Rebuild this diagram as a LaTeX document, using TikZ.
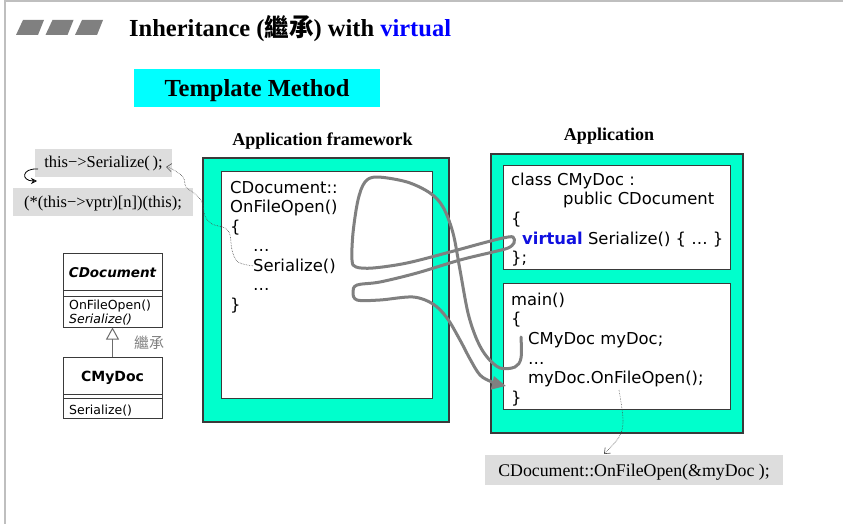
\documentclass[tikz,border=0pt]{standalone}
\usepackage{fontspec}
\setmainfont{Liberation Serif}
\setsansfont{DejaVu Sans}
\newfontfamily\cjk{Noto Sans CJK TC}
\usetikzlibrary{arrows.meta}
\definecolor{frameteal}{HTML}{00FFCC}
\definecolor{titlecyan}{HTML}{00FFFF}
\definecolor{callgray}{HTML}{DDDDDD}
\definecolor{edgegray}{HTML}{3A3A3A}
\definecolor{flowgray}{HTML}{808080}
\definecolor{vblue}{HTML}{1010E0}
\newdimen\pxsize
\setlength{\pxsize}{1pt}
\newcommand{\codefont}{\sffamily\fontsize{16.4}{18}\selectfont}
\newcommand{\umlfont}{\sffamily\fontsize{12.5}{14}\selectfont}
\newcommand{\callfont}{\fontsize{16.5}{18}\selectfont}

\begin{document}
\begin{tikzpicture}[x=\pxsize,y=-\pxsize,
  code/.style={anchor=base west,inner sep=0pt,font=\codefont},
  umltext/.style={anchor=base west,inner sep=0pt,font=\umlfont},
  callbox/.style={fill=callgray,inner sep=0pt,font=\callfont},
  outerbox/.style={draw=edgegray,line width=1.3pt,fill=frameteal},
  innerbox/.style={draw=edgegray,line width=1pt,fill=white},
  classbox/.style={draw=edgegray,line width=1pt,fill=white,inner sep=0pt,minimum width=99pt},
  dotlink/.style={densely dotted,line width=0.6pt,draw=black!70,-{Straight Barb[length=5pt,width=8pt]}},
  flow/.style={line width=3pt,draw=flowgray,line cap=round,line join=round,-{Triangle[length=14pt,width=13pt]}}]
\useasboundingbox (0,0) rectangle (843,524);
\fill[white] (0,0) rectangle (843,524);
\draw[gray!50,line width=2pt] (5,524) -- (5,1) -- (843,1);

% title bar
\foreach \bx in {16,45.5,75}{
  \fill[gray] (\bx,35) -- ++(22,0) -- ++(6,-15) -- ++(-21,0) -- cycle;
}
\node[anchor=base west,inner sep=0pt,font=\bfseries\fontsize{24.5}{27}\selectfont] (title) at (129,37)
  {Inheritance ({\cjk 繼承}) with {\color{blue}virtual}};
\node[fill=titlecyan,minimum width=246pt,minimum height=38pt,text height=18pt,text depth=0pt,inner sep=0pt,
  font=\bfseries\fontsize{24.5}{26}\selectfont] (tmpl) at (257,88) {Template Method};

% headings
\node[anchor=base,inner sep=0pt,font=\bfseries\fontsize{18}{20}\selectfont] (fwhead) at (322.5,146) {Application framework};
\node[anchor=base,inner sep=0pt,font=\bfseries\fontsize{18}{20}\selectfont] (apphead) at (609,140) {Application};

% framework
\draw[outerbox] (203,158) rectangle (449,422);
\draw[innerbox] (221,171) rectangle (432,398);
\foreach \ln/\lx/\tx in {0/230/{CDocument::},1/230/{OnFileOpen()},2/230/{\{},3/253/{\ldots},
  4/253/{Serialize()},5/253/{\ldots},6/230/{\}}}{
  \node[code] (fw\ln) at (\lx,{193+19.5*\ln}) {\tx};
}

% application
\draw[outerbox] (491,154) rectangle (743,433);
\draw[innerbox] (503,165) rectangle (730,269);
\draw[innerbox] (503,283) rectangle (730,409);
\foreach \ln/\lx/\tx in {0/511/{class CMyDoc :},1/563/{public CDocument},2/511/{\{},
  3/522/{{\bfseries\color{vblue}virtual} Serialize() \{ \ldots\ \}},4/511/{\};}}{
  \node[code] (cls\ln) at (\lx,{185+19.7*\ln}) {\tx};
}
\foreach \ln/\lx/\tx in {0/511/{main()},1/511/{\{},2/528/{CMyDoc myDoc;},3/528/{\ldots},
  4/528/{myDoc.OnFileOpen();},5/511/{\}}}{
  \node[code] (mn\ln) at (\lx,{305+19.7*\ln}) {\tx};
}

% calls
\node[callbox,minimum width=137pt,minimum height=28pt,text height=12pt,text depth=3pt] (thisser) at (103.5,163)
  {this−>Serialize(\,);};
\node[callbox,minimum width=180pt,minimum height=28pt,text height=12.5pt,text depth=2.5pt] (vptr) at (103,202)
  {(*(this−>vptr)[n])(this);};
\node[callbox,minimum width=298pt,minimum height=30pt,text height=13pt,text depth=1pt,font=\fontsize{17.8}{20}\selectfont]
  (docopen) at (634,470) {CDocument::OnFileOpen(\&myDoc );};
\draw[line width=0.8pt,-{Stealth[open,length=6pt,width=6pt]}] (38,169) .. controls (21,168) and (21,181) .. (37,181);

\coordinate (sertip) at (166,167);
\coordinate (opentip) at (604,454);
\draw[dotlink] plot[smooth,tension=0.6] coordinates {(fw4.west) (238,262) (232,250) (230,235) (225,228)
  (212,224) (205,216) (202,202) (194,193) (186,187) (183,177) (172,169) (sertip)};
\draw[dotlink] plot[smooth,tension=0.6] coordinates {(619,390) (623,420) (619,437) (opentip)};

% uml
\node[classbox,minimum height=74pt] (cdoc) at (112.5,290) {};
\draw[edgegray,line width=1pt] (63,290) -- (162,290) (63,296) -- (162,296);
\node[anchor=base,inner sep=0pt,font=\sffamily\bfseries\itshape\fontsize{13.5}{15}\selectfont] (cdocname) at (112.5,277) {CDocument};
\node[umltext] (cdocm1) at (69,309) {OnFileOpen()};
\node[umltext,font=\umlfont\itshape] (cdocm2) at (69,323) {Serialize()};
\node[classbox,minimum height=61pt] (mydoc) at (112.5,387.5) {};
\draw[edgegray,line width=1pt] (63,394) -- (162,394) (63,398) -- (162,398);
\node[anchor=base,inner sep=0pt,font=\sffamily\bfseries\fontsize{14}{15}\selectfont] (mydocname) at (112.5,381) {CMyDoc};
\node[umltext] (mydocm1) at (69,414.5) {Serialize()};
\draw[gray!85!black,line width=1.8pt,-{Triangle[open,length=12pt,width=13pt,line width=1pt]}] (mydoc.north) -- (cdoc.south);
\node[text=gray,inner sep=0pt,font=\cjk\fontsize{15}{16}\selectfont] (inh) at (149,343) {繼承};

% flow
\coordinate (flowstart) at (521,337);
\coordinate (flowend) at (506,386);
\draw[flow] plot[smooth,tension=0.55] coordinates {(flowstart) (521,358) (515,367) (500,368) (487,357) (477,340)
  (468,313) (460,270) (453,233) (443,207) (430,193) (407,182) (377,177) (365,182) (358,200) (353,233) (352,260)
  (356,267) (373,268) (407,263) (450,252) (483,243) (503,238) (513,237) (514,243) (508,248) (493,252) (460,260)
  (417,273) (380,282) (357,285) (353,292) (357,300) (380,300) (413,297) (433,304) (447,318) (460,340) (470,359)
  (480,375) (492,382) (flowend)};
\end{tikzpicture}
\end{document}
